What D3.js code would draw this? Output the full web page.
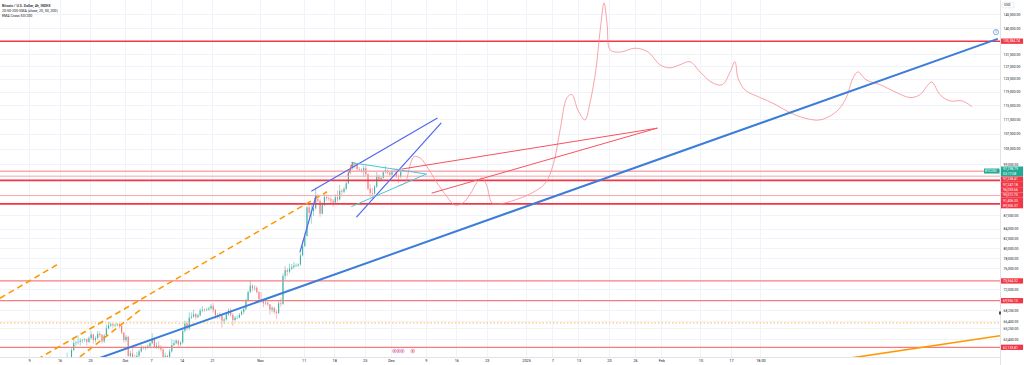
<!DOCTYPE html>
<html><head><meta charset="utf-8">
<script src="https://cdn.jsdelivr.net/npm/d3@7"></script>
<style>html,body{margin:0;padding:0;background:#fff;}svg{display:block;font-family:Roboto,"Liberation Sans",Arial,sans-serif;}</style>
</head><body>
<svg id="c" width="1024" height="365"></svg>
<script>
// ---------------- DATA ----------------
const legendLines = ["Bitcoin / U.S. Dollar, 4h, INDEX", "20-50-200-SMA (close, 20, 50, 200)", "EMA Cross 50/200"];
const priceTicks = [145000,140000,131000,127000,123000,119000,115000,111000,107000,103000,99000,87000,84000,82000,80000,78000,76000,72000,68250,66450,65250,63450];
const timeTickDates = ["2024-09-09","2024-09-16","2024-09-23","2024-10-01","2024-10-07","2024-10-14","2024-10-21","2024-11-01","2024-11-11","2024-11-18","2024-11-25","2024-12-01","2024-12-09","2024-12-16","2024-12-23","2025-01-01","2025-01-07","2025-01-13","2025-01-20","2025-01-26","2025-02-01","2025-02-10","2025-02-17","2025-02-23T18:00"];
const timeTickLabels = ["9","16","23","Oct","7","14","21","Nov","11","18","25","Dec","9","16","23","2025","7","13","20","26","Feb","10","17","18:00"];

// 12h candles (thousand USD), starting 2024-09-02 00:00 UTC; open = previous close
const candleStart = "2024-09-02T00:00:00Z";
const candleHours = 12;
const firstOpenK = 57.3;
const closeK = [
57.8,59.1,58.9,57.5,56.5,57.9,56.9,56.2,56.3,53.9,54.5,54.1,54.6,54.8,
55.5,57.0,56.8,57.6,56.5,57.3,58.0,58.1,58.8,60.5,60.2,60.0,59.9,59.2,
58.3,58.2,58.9,60.3,59.8,61.7,62.8,62.9,63.0,63.2,63.3,63.4,63.0,63.6,
64.2,63.3,63.6,64.3,64.1,63.1,64.0,65.2,65.7,65.9,65.7,65.8,65.9,65.6,
64.5,63.3,63.8,60.8,61.2,60.6,60.5,60.8,61.5,62.1,62.0,62.1,62.3,62.8,
63.5,62.2,62.4,62.1,61.8,60.6,60.8,60.3,61.5,62.5,62.8,63.2,62.6,62.9,
64.8,66.0,65.2,67.0,67.2,67.6,67.1,67.4,68.2,68.4,68.3,68.4,68.6,69.0,
68.3,67.4,67.3,67.4,66.5,66.7,67.6,68.2,67.5,66.6,67.0,67.0,67.5,68.0,
68.5,69.9,71.5,72.7,72.2,72.3,71.5,70.2,70.0,69.5,69.6,69.3,68.4,68.7,
68.0,67.8,69.5,69.4,74.5,75.6,75.3,75.9,76.2,76.5,76.5,76.7,78.5,80.4,
82.5,88.7,87.5,87.9,88.5,90.6,90.2,87.3,89.3,91.1,90.8,90.6,90.2,89.8,
91.0,90.5,92.5,92.3,93.0,94.3,97.0,98.0,99.2,98.9,97.8,97.7,97.4,98.0,
96.5,93.0,92.0,91.9,93.5,95.9,95.3,95.6,97.0,97.5,96.9,96.4,97.3,97.2,
96.0,95.9,97.29879];
const highK = [
58.2,59.8,59.4,59.0,57.8,58.5,58.3,57.1,57.0,56.6,54.8,54.8,55.0,55.3,
55.8,58.0,57.3,58.0,57.8,57.7,58.5,58.6,59.0,60.7,60.6,60.4,60.4,60.1,
59.3,58.8,59.2,61.3,60.5,62.0,63.8,63.2,64.1,63.6,63.5,63.6,63.6,63.9,
64.7,64.3,63.9,64.8,64.7,64.3,64.3,65.8,66.3,66.2,66.0,66.0,66.1,66.0,
65.6,64.6,64.1,64.0,61.6,62.3,61.0,61.4,61.8,62.5,62.3,62.4,62.6,63.0,
64.4,63.7,62.9,63.1,62.5,62.0,61.3,61.0,61.9,63.4,63.3,63.4,63.3,63.1,
65.1,66.5,66.4,67.9,67.9,68.4,67.8,67.7,68.6,69.0,68.6,68.7,68.9,69.4,
69.5,68.5,67.8,67.9,67.5,67.0,68.0,68.6,68.7,67.8,67.3,67.4,67.8,68.3,
68.8,70.3,71.8,73.6,72.9,72.8,72.6,71.7,71.5,70.2,69.9,69.8,69.4,69.0,
68.9,68.4,70.0,70.5,75.0,76.4,76.0,76.9,76.8,77.2,76.9,76.9,79.0,81.5,
83.0,89.0,89.9,89.2,89.0,93.3,91.7,90.5,89.8,91.8,91.6,91.2,91.2,90.6,
91.7,92.6,93.9,93.0,93.5,94.9,97.5,98.9,99.6,99.5,99.0,98.3,98.0,98.6,
98.7,96.7,94.1,93.2,93.9,97.2,96.5,96.0,97.4,98.6,97.7,97.3,97.6,97.9,
98.0,96.5,97.6];
const lowK = [
57.1,57.6,58.5,57.2,55.6,56.2,56.6,55.7,55.8,52.6,53.7,53.9,53.8,54.3,
54.6,55.3,56.4,56.6,55.6,56.3,57.2,57.6,57.8,58.6,59.9,59.6,59.7,58.7,
57.6,57.5,58.0,58.7,59.2,59.2,61.5,62.3,62.6,62.4,62.8,63.0,62.4,62.8,
63.4,62.7,62.9,63.4,63.7,62.7,62.8,63.8,65.0,65.4,65.3,65.4,65.5,65.2,
64.2,62.9,63.0,60.2,60.4,60.0,59.8,60.2,60.6,61.3,61.8,61.7,61.9,62.1,
62.6,62.0,61.9,61.8,61.5,60.3,59.8,58.9,60.1,61.3,62.3,62.6,62.2,62.3,
62.7,64.5,64.8,64.9,66.8,67.0,66.7,66.9,67.2,67.9,68.0,68.1,68.2,68.4,
67.9,66.8,66.8,66.9,65.3,65.9,66.5,67.3,67.2,65.6,66.4,66.8,66.9,67.4,
67.6,68.3,69.7,71.3,71.6,71.8,71.2,69.8,69.6,68.8,69.2,69.0,67.5,67.9,
67.6,66.8,67.6,68.9,69.2,73.8,74.5,75.0,75.6,75.9,76.2,76.3,76.5,78.3,
80.2,82.3,86.5,85.1,86.8,88.2,89.9,86.6,87.1,89.0,90.2,90.2,89.6,88.8,
89.6,89.9,90.3,91.5,91.9,92.7,94.1,96.5,97.6,97.9,97.4,97.1,96.9,95.9,
96.1,92.6,91.0,90.8,91.6,93.2,94.8,94.9,95.4,96.7,96.5,96.1,96.2,96.9,
95.6,94.3,95.5];

// horizontal price levels
const levelPrices = [135384.74, 97258.41, 97247.18, 96033.66, 95012.75, 91406.33, 89506.37, 73564.32, 69956.15, 62133.81];
const levelKinds  = ["strong","light","light","light","strong","light","strong","mid","mid","mid"];
const dottedLevelPrice = 66100;
const countdownText = "03:17:08";
const symbolTag = "BTCUSD";

// drawings: times in days since 2024-09-09 00:00 UTC, prices in USD
const drawEpoch = "2024-09-09T00:00:00Z";
const blueTrendDays = [11.7, 222.0];
const blueTrendPrices = [59400, 136100];
const orangeDashDays = [[-2.06, 68.35], [-6.65, 7.11], [9.86, 25.46]];
const orangeDashPrices = [[58760, 92300], [70400, 77000], [59700, 68300]];
const orangeSolidDays = [183.7, 222.7];
const orangeSolidPrices = [60000, 63990];
const channelDays = [[64.84, 93.58], [75.16, 94.5], [62.16, 65.83]];
const channelPrices = [[92500, 111300], [86600, 109900], [79200, 91300]];
const cyanDays = [[74.0, 90.83], [74.0, 91.2]];
const cyanPrices = [[99400, 96600], [88900, 96600]];
const redLineDays = [[85.55, 144.04], [92.43, 144.04], [73.17, 74.24]];
const redLinePrices = [[97800, 108500], [92000, 108500], [96300, 99400]];
const sketchDays = [84.6,86.2,87.4,88.3,89.7,91.5,93.6,95.9,97.7,99.5,101.1,102.8,103.9,105.0,106.2,108.0,111.5,114.9,118.3,120.2,121.8,123.4,124.5,125.9,127.5,128.7,130.0,131.0,131.9,132.6,133.3,135.6,139.0,142.0,144.7,147.0,149.3,151.6,153.9,156.7,159.0,160.8,161.9,162.6,164.2,167.7,171.1,174.5,178.0,181.4,184.9,187.2,189.0,190.1,192.0,195.2,198.6,202.1,204.4,206.2,207.1,208.9,211.2,214.0,216.3];
const sketchPriceK = [93.7,94.4,98.8,100.9,100.6,98.0,94.4,91.1,89.2,89.7,91.6,94.6,95.6,93.7,89.7,89.5,90.4,91.8,94.2,98.8,108.0,117.3,118.2,113.6,110.8,116.0,125.8,139.3,149.2,141.1,132.4,131.7,133.0,131.7,127.5,126.5,127.5,128.5,125.2,121.8,121.2,125.2,128.5,123.3,119.6,117.3,115.3,112.9,111.3,110.8,112.9,116.6,123.3,125.2,122.7,121.2,119.0,117.3,118.2,121.2,122.0,118.2,116.3,116.3,114.6];
const eventDays = [83.8, 84.7, 85.6, 88.0];

// ---------------- CHART ----------------
const W = 1024, H = 365, plotR = 1000, plotB = 357;
const svg = d3.select("#c");
const T = s => new Date(s.length <= 10 ? s + "T00:00:00Z" : (s.endsWith("Z") ? s : s + ":00Z"));
const epochMs = new Date(drawEpoch).getTime();
const D = d => new Date(epochMs + d * 864e5);

const x = d3.scaleUtc().domain([T("2024-09-09"), T("2025-02-17")]).range([29, 731]);
const y = d3.scaleLog().domain([140000, 87000]).range([28, 215]);

svg.append("rect").attr("width", W).attr("height", H).attr("fill", "#ffffff");
svg.append("defs").append("clipPath").attr("id", "plot")
  .append("rect").attr("x", 0).attr("y", 0).attr("width", plotR).attr("height", plotB);

// grid
const grid = svg.append("g").attr("clip-path", "url(#plot)");
grid.selectAll("line.v").data(timeTickDates).join("line").attr("class", "v")
  .attr("x1", d => Math.round(x(T(d))) + 0.5).attr("x2", d => Math.round(x(T(d))) + 0.5)
  .attr("y1", 0).attr("y2", plotB).attr("stroke", "#f0f3fa");
grid.selectAll("line.h").data(priceTicks).join("line").attr("class", "h")
  .attr("y1", d => Math.round(y(d)) + 0.5).attr("y2", d => Math.round(y(d)) + 0.5)
  .attr("x1", 0).attr("x2", plotR).attr("stroke", "#f0f3fa");

const plot = svg.append("g").attr("clip-path", "url(#plot)");

// candles
const t0 = new Date(candleStart).getTime();
const stepMs = candleHours * 3600e3;
const candles = closeK.map((c, i) => ({
  t: new Date(t0 + i * stepMs + stepMs / 2),
  o: (i ? closeK[i - 1] : firstOpenK) * 1000,
  h: highK[i] * 1000, l: lowK[i] * 1000, c: c * 1000
}));
const bw = (x(new Date(t0 + stepMs)) - x(new Date(t0))) * 0.5;
const up = "#3bb3a4", dn = "#f2777a";
const cg = plot.append("g");
cg.selectAll("line").data(candles).join("line")
  .attr("x1", d => x(d.t)).attr("x2", d => x(d.t))
  .attr("y1", d => y(d.h)).attr("y2", d => y(d.l))
  .attr("stroke", d => d.c >= d.o ? up : dn).attr("stroke-width", 0.5);
cg.selectAll("rect").data(candles).join("rect")
  .attr("x", d => x(d.t) - bw / 2).attr("width", bw)
  .attr("y", d => y(Math.max(d.o, d.c)))
  .attr("height", d => Math.max(0.6, Math.abs(y(d.o) - y(d.c))))
  .attr("fill", d => d.c >= d.o ? up : dn);

// dotted level
plot.append("line").attr("x1", 0).attr("x2", plotR)
  .attr("y1", y(dottedLevelPrice)).attr("y2", y(dottedLevelPrice))
  .attr("stroke", "#ffb74d").attr("stroke-width", 1).attr("stroke-dasharray", "1.5,2");

// horizontal levels
const levelStyle = {
  strong: { c: "#f23645", w: 1.6 },
  light:  { c: "#f7a5ab", w: 1 },
  mid:    { c: "#f77c80", w: 1.3 }
};
plot.selectAll("line.lvl").data(levelPrices).join("line").attr("class", "lvl")
  .attr("x1", 0).attr("x2", plotR)
  .attr("y1", d => y(d)).attr("y2", d => y(d))
  .attr("stroke", (d, i) => levelStyle[levelKinds[i]].c)
  .attr("stroke-width", (d, i) => levelStyle[levelKinds[i]].w);

function seg(days, prices, color, width, dash) {
  const l = plot.append("line")
    .attr("x1", x(D(days[0]))).attr("y1", y(prices[0]))
    .attr("x2", x(D(days[1]))).attr("y2", y(prices[1]))
    .attr("stroke", color).attr("stroke-width", width).attr("stroke-linecap", "round");
  if (dash) l.attr("stroke-dasharray", dash).attr("stroke-linecap", "butt");
  return l;
}

// sketch projection
plot.append("path")
  .datum(sketchDays.map((d, i) => [d, sketchPriceK[i] * 1000]))
  .attr("d", d3.line().x(d => x(D(d[0]))).y(d => y(d[1])).curve(d3.curveCatmullRom.alpha(0.5)))
  .attr("fill", "none").attr("stroke", "#f7868e").attr("stroke-width", 0.9).attr("opacity", 0.85);

orangeDashDays.forEach((d, i) => seg(d, orangeDashPrices[i], "#ff9800", 1.6, "6,4"));
seg(orangeSolidDays, orangeSolidPrices, "#ff9800", 1.6);
channelDays.forEach((d, i) => seg(d, channelPrices[i], "#5068f0", 1.2));
cyanDays.forEach((d, i) => seg(d, cyanPrices[i], "#45c6d8", 1));
redLineDays.forEach((d, i) => seg(d, redLinePrices[i], "#f7525f", 1));
seg(blueTrendDays, blueTrendPrices, "#3b7dd8", 2);

// alert icon near trend end
const ix = x(D(blueTrendDays[1])), iy = y(blueTrendPrices[1]) - 7;
svg.append("circle").attr("cx", ix - 1).attr("cy", iy).attr("r", 2.6)
  .attr("fill", "#fff").attr("stroke", "#5b8fd8").attr("stroke-width", 0.7);
svg.append("text").attr("x", ix - 1).attr("y", iy + 1.2).attr("text-anchor", "middle")
  .attr("font-size", 3.4).attr("fill", "#5b8fd8").text("3");

// event markers at pane bottom
svg.selectAll("circle.ev").data(eventDays).join("circle").attr("class", "ev")
  .attr("cx", d => x(D(d))).attr("cy", 351).attr("r", 1.9)
  .attr("fill", "#fde8ee").attr("stroke", (d, i) => i < 3 ? "#c58be0" : "#ef7b93").attr("stroke-width", 0.6);
svg.selectAll("circle.evc").data(eventDays).join("circle").attr("class", "evc")
  .attr("cx", d => x(D(d))).attr("cy", 351).attr("r", 0.8).attr("fill", "#ef5350");

// panel borders
svg.append("line").attr("x1", plotR + 0.5).attr("x2", plotR + 0.5).attr("y1", 0).attr("y2", H).attr("stroke", "#e0e3eb");
svg.append("line").attr("x1", 0).attr("x2", plotR).attr("y1", plotB + 0.5).attr("y2", plotB + 0.5).attr("stroke", "#e0e3eb");

// right axis
const yAxis = d3.axisRight(y).tickValues(priceTicks).tickSize(0).tickPadding(0).tickFormat(d3.format(",.2f"));
const ya = svg.append("g").attr("transform", `translate(${plotR + 3.5},0)`).call(yAxis);
ya.select(".domain").remove();
ya.selectAll("text").attr("font-size", 3.4).attr("fill", "#131722").attr("font-family", "Roboto, 'Liberation Sans', Arial, sans-serif");

// bottom axis
const xAxis = d3.axisBottom(x).tickValues(timeTickDates.map(T)).tickSize(0).tickPadding(2.3)
  .tickFormat((d, i) => timeTickLabels[i]);
const xa = svg.append("g").attr("transform", `translate(0,${plotB})`).call(xAxis);
xa.select(".domain").remove();
xa.selectAll("text").attr("font-size", 3.8).attr("fill", "#131722").attr("font-family", "Roboto, 'Liberation Sans', Arial, sans-serif");

// USD box
svg.append("rect").attr("x", 1002).attr("y", 2.2).attr("width", 12).attr("height", 5.6).attr("rx", 1)
  .attr("fill", "#fff").attr("stroke", "#d1d4dc").attr("stroke-width", 0.4);
svg.append("text").attr("x", 1004).attr("y", 6.2).attr("font-size", 3.4).attr("fill", "#131722").text("USD");

// price labels with collision stacking
const fmt = d3.format(",.2f");
const last = candles[candles.length - 1];
const greenY = y(last.c);
const gTop = greenY - 4.5, gH = 10;
svg.append("rect").attr("x", plotR + 1).attr("y", gTop).attr("width", 22).attr("height", gH).attr("fill", "#22ab94");
svg.append("text").attr("x", plotR + 3).attr("y", gTop + 3.7).attr("font-size", 3.4).attr("fill", "#fff").text(fmt(last.c));
svg.append("text").attr("x", plotR + 3).attr("y", gTop + 8.3).attr("font-size", 3.4).attr("fill", "#fff").text(countdownText);
svg.append("rect").attr("x", plotR - 16).attr("y", greenY - 2.5).attr("width", 15.5).attr("height", 5).attr("fill", "#22ab94");
svg.append("text").attr("x", plotR - 15).attr("y", greenY + 1.2).attr("font-size", 3.1).attr("fill", "#fff").text(symbolTag);

const lh = 5.3;
let occupiedBottom = -Infinity;
const order = levelPrices.map((p, i) => i).sort((a, b) => levelPrices[b] - levelPrices[a]);
order.forEach(i => {
  let cy = y(levelPrices[i]);
  if (cy - lh / 2 < gTop + gH && cy + lh / 2 > gTop) cy = gTop + gH + lh / 2;
  if (cy - lh / 2 < occupiedBottom) cy = occupiedBottom + lh / 2;
  occupiedBottom = cy + lh / 2;
  svg.append("rect").attr("x", plotR + 1).attr("y", cy - lh / 2).attr("width", 22).attr("height", lh).attr("fill", "#f23645");
  svg.append("text").attr("x", plotR + 3).attr("y", cy + 1.2).attr("font-size", 3.4).attr("fill", "#fff").text(fmt(levelPrices[i]));
});

// small marker on scale
svg.append("rect").attr("x", plotR - 1).attr("y", 311.5).attr("width", 2).attr("height", 3).attr("fill", "#4a4e5a");

// legend
svg.selectAll("text.lg").data(legendLines).join("text").attr("class", "lg")
  .attr("x", 2).attr("y", (d, i) => [6.6, 12, 16.6][i])
  .attr("font-size", 3.6).attr("fill", "#131722").attr("font-weight", (d, i) => i ? 400 : 500).text(d => d);
</script>
</body></html>
